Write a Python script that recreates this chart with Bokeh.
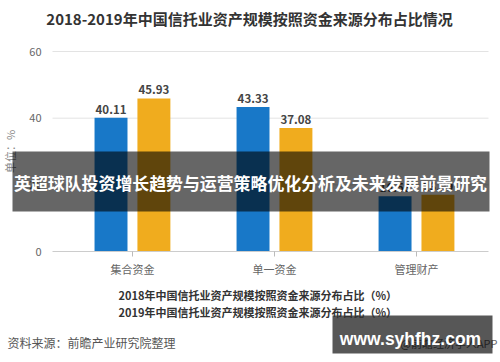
from bokeh.plotting import figure
from bokeh.models import (ColumnDataSource, Range1d, FixedTicker, Label, BoxAnnotation,
                          Legend, LegendItem)
from bokeh.core.properties import value
from bokeh.embed import file_html
from bokeh.resources import INLINE

# ---- data ----
title_text = "2018-2019年中国信托业资产规模按照资金来源分布占比情况"
categories = ["集合资金", "单一资金", "管理财产"]
values_2018 = [40.11, 43.33, 16.56]
values_2019 = [45.93, 37.08, 16.99]
series_names = ["2018年中国信托业资产规模按照资金来源分布占比（%）",
                "2019年中国信托业资产规模按照资金来源分布占比（%）"]
y_ticks = [0, 20, 40, 60]
y_label = "单位：%"
source_text = "资料来源：前瞻产业研究院整理"
credit_text = "@前瞻经济学人APP"
banner_text = "英超球队投资增长趋势与运营策略优化分析及未来发展前景研究"
watermark_text = "www.syhfhz.com"

BLUE = "#1878c8"
ORANGE = "#f0ac1e"
FONT = "Noto Sans CJK SC"

# ---- layout (figure pixels) ----
W, H = 500, 362
PL, PR = 52, 488          # plot-area left/right
PT, PB = 51, 251          # plot-area top/bottom
XS, XE = -0.063, 3.007    # data x at plot-area edges
YS, YE = 0, 60            # data y at plot-area edges
kx = (XE - XS) / (PR - PL)
ky = (YE - YS) / (PB - PT)
X_LO, X_HI = XS - PL * kx, XE + (W - PR) * kx
Y_LO, Y_HI = YS - (H - PB) * ky, YE + PT * ky

def dx(px):
    return X_LO + px * kx

def dy(py):
    return Y_HI - py * ky

p = figure(width=W, height=H, output_backend="svg", toolbar_location=None,
           x_range=Range1d(X_LO, X_HI), y_range=Range1d(Y_LO, Y_HI),
           min_border=0, min_border_left=0, min_border_right=0,
           min_border_top=0, min_border_bottom=0)
p.outline_line_color = None
p.background_fill_color = "white"
p.border_fill_color = "white"
p.xgrid.visible = False
p.ygrid.visible = False

# grid lines over the plot area
grid_y = [t for t in y_ticks if t != 0]
p.segment(x0=[XS] * len(grid_y), x1=[XE] * len(grid_y), y0=grid_y, y1=grid_y,
          line_color="#e3e3e3", line_width=1)

off, bw = 0.151, 0.232
centers = [i + 0.5 for i in range(len(categories))]
src = ColumnDataSource(dict(
    x18=[c - off for c in centers], x19=[c + off for c in centers],
    v18=values_2018, v19=values_2019,
    t18=["%.2f" % v for v in values_2018], t19=["%.2f" % v for v in values_2019]))

p.vbar(x="x18", top="v18", width=bw, source=src, color=BLUE, line_color=None)
p.vbar(x="x19", top="v19", width=bw, source=src, color=ORANGE, line_color=None)
for xc, yc, tc in (("x18", "v18", "t18"), ("x19", "v19", "t19")):
    p.text(x=xc, y=yc, text=tc, source=src,
           text_align="center", text_baseline="bottom", y_offset=-4,
           text_font=value(FONT), text_font_size="11.5px", text_font_style="bold",
           text_color="#444444")

# axes fixed at plot-area edges
p.xaxis.fixed_location = 0
p.xaxis.bounds = (XS, XE)
p.xaxis.ticker = FixedTicker(ticks=centers)
p.xaxis.major_label_overrides = {c: n for c, n in zip(centers, categories)}
p.xaxis.axis_line_color = "#cccccc"
p.xaxis.major_tick_line_color = "#bbbbbb"
p.xaxis.major_tick_in = 0
p.xaxis.major_tick_out = 5
p.xaxis.minor_tick_line_color = None
p.xaxis.major_label_standoff = 4
p.xaxis.major_label_text_font = FONT
p.xaxis.major_label_text_font_size = "11px"
p.xaxis.major_label_text_color = "#666666"

p.yaxis.fixed_location = XS
p.yaxis.bounds = (YS, YE)
p.yaxis.ticker = FixedTicker(ticks=y_ticks)
p.yaxis.axis_line_color = None
p.yaxis.major_tick_line_color = None
p.yaxis.minor_tick_line_color = None
p.yaxis.major_label_standoff = 5
p.yaxis.major_label_text_font = FONT
p.yaxis.major_label_text_font_size = "11px"
p.yaxis.major_label_text_color = "#666666"
p.yaxis.axis_label = y_label
p.yaxis.axis_label_standoff = 8
p.yaxis.axis_label_text_font = FONT
p.yaxis.axis_label_text_font_size = "11px"
p.yaxis.axis_label_text_font_style = "normal"
p.yaxis.axis_label_text_color = "#888888"

# legends (one per row)
def legend_row(name, color, center_y):
    r = p.scatter(x=[], y=[], marker="circle", color=color, size=10)
    lg = Legend(items=[LegendItem(label=name, renderers=[r])],
                location=(104 - 12.5, H - (center_y + 12.5)),
                glyph_width=25, glyph_height=25, label_height=17,
                label_standoff=2, padding=0, margin=0, spacing=0,
                background_fill_alpha=0, border_line_alpha=0,
                label_text_font=FONT, label_text_font_size="11px",
                label_text_font_style="bold", label_text_color="#333333")
    p.add_layout(lg)

legend_row(series_names[0], BLUE, 295)
legend_row(series_names[1], ORANGE, 312)

# title
p.add_layout(Label(x=dx(249), y=dy(18), text=title_text, text_align="center",
                   text_baseline="middle", text_font=FONT, text_font_size="15px",
                   text_font_style="bold", text_color="#333333"))
# source and credit
p.add_layout(Label(x=dx(7), y=dy(342), text=source_text, text_align="left",
                   text_baseline="middle", text_font=FONT, text_font_size="12px",
                   text_color="#555555"))
p.add_layout(Label(x=dx(497), y=dy(342), text=credit_text, text_align="right",
                   text_baseline="middle", text_font=FONT, text_font_size="11px",
                   text_color="#666666"))

# overlay banner
p.add_layout(BoxAnnotation(left=dx(12), right=dx(489), top=dy(151), bottom=dy(211),
                           fill_color="black", fill_alpha=0.6, line_alpha=0,
                           level="overlay"))
p.add_layout(Label(x=dx(250), y=dy(182), text=banner_text, text_align="center",
                   text_baseline="middle", text_font=FONT, text_font_size="16.9px",
                   text_font_style="bold", text_color="white", level="overlay"))
# watermark box
p.add_layout(BoxAnnotation(left=dx(332), right=dx(492), top=dy(315), bottom=dy(353),
                           fill_color="black", fill_alpha=0.66, line_alpha=0,
                           level="overlay"))
p.add_layout(Label(x=dx(410), y=dy(338), text=watermark_text, text_align="center",
                   text_baseline="middle", text_font="Liberation Sans",
                   text_font_size="17.5px", text_font_style="bold", text_color="white",
                   level="overlay"))

open("out.html", "w").write(file_html(p, INLINE))
